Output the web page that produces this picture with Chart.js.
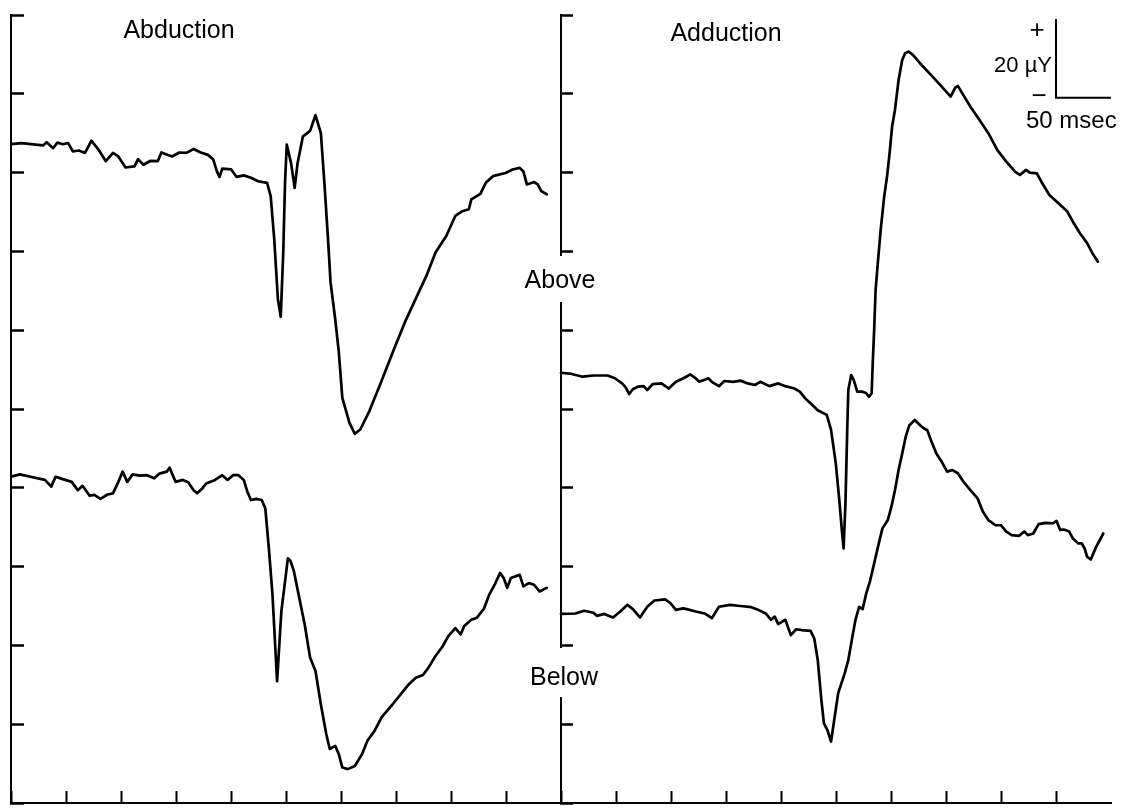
<!DOCTYPE html>
<html>
<head>
<meta charset="utf-8">
<title>Abduction / Adduction evoked responses</title>
<script src="https://cdn.jsdelivr.net/npm/chart.js@4.4.1/dist/chart.umd.min.js"></script>
<style>
  html, body { margin: 0; padding: 0; background: #fff; }
  #wrap { width: 1123px; height: 808px; position: relative; }
  canvas { display: block; }
</style>
</head>
<body>
<div id="wrap"><canvas id="c" width="1123" height="808"></canvas></div>
<script>
// ---- Data -------------------------------------------------------------
// Time in msec from the start of each panel, amplitude in µV on the shared vertical scale.
const PANEL_MS = 500;
const X_TICK_MS = 50;
const Y_TICK_UV = 20;
const Y_MAX_UV = 200;

const panelTitles = ['Abduction', 'Adduction'];
const traceNames = ['Above', 'Below'];
const scaleBarMs = 50;
const scaleBarUv = 20;
const scaleBarTexts = ['+', '20 µY', '−', '50 msec'];

// Abduction, electrode above
const abductionAbove = [
  [0,167.2],[9.6,167.5],[29.1,166.9],[32.4,167.7],[38.3,166.2],[42.2,167.6],[47.1,167.2],[52.0,167.5],
  [56.2,165.4],[61.7,165.6],[67.3,165.0],[73.1,168.1],[79.6,165.8],[86.2,162.9],[92.7,165.0],[97.6,164.1],
  [104.1,161.3],[112.2,161.6],[115.5,163.4],[120.4,162.0],[126.9,163.0],[133.4,162.9],[136.7,165.1],[146.5,164.1],
  [153.0,165.1],[159.5,165.0],[166.0,166.0],[172.5,165.1],[179.0,164.5],[183.9,163.3],[187.2,160.3],[189.5,158.9],
  [192.1,161.0],[200.2,160.8],[205.1,158.9],[211.6,159.3],[218.1,158.7],[224.7,157.8],[232.8,157.4],[236.1,154.0],
  [239.3,143.1],[242.6,128.0],[245.2,123.4],[247.5,139.7],[249.1,157.4],[250.7,167.1],[254.6,162.4],[257.9,156.1],
  [260.5,162.4],[265.4,169.2],[271.9,170.6],[276.8,174.6],[281.7,170.0],[284.9,157.4],[288.2,143.1],[290.5,132.2],
  [294.7,122.9],[298.0,114.5],[301.2,102.8],[307.7,96.5],[312.6,93.7],[317.5,94.8],[325.7,99.4],[335.4,106.1],
  [348.5,115.4],[358.2,122.1],[368.0,128.0],[377.8,133.9],[385.9,139.7],[395.7,143.9],[403.9,149.0],[410.4,150.2],
  [416.2,150.7],[418.5,153.2],[426.7,154.6],[431.6,157.4],[438.1,159.1],[449.5,159.9],[456.0,160.8],[462.5,161.2],
  [465.8,160.3],[469.0,157.0],[475.6,157.6],[478.8,157.0],[482.1,155.3],[487.0,154.5]
];

// Abduction, electrode below
const abductionBelow = [
  [0,82.8],[8.0,83.4],[17.7,82.8],[30.8,82.0],[36.6,80.3],[40.5,82.8],[47.1,82.2],[55.2,81.5],
  [60.7,79.4],[65.0,80.5],[71.5,78.0],[75.7,78.2],[81.3,77.2],[87.8,78.3],[92.7,78.6],[97.6,81.5],
  [101.5,84.1],[105.7,81.5],[110.6,83.4],[117.1,83.1],[123.6,83.2],[130.2,82.4],[135.0,83.6],[141.6,84.1],
  [144.2,85.1],[146.4,83.6],[149.7,81.5],[156.2,82.0],[161.1,81.4],[166.0,79.4],[169.2,78.6],[174.1,79.9],
  [177.4,81.1],[185.5,82.0],[192.0,83.2],[196.9,82.0],[201.8,83.2],[206.7,83.2],[211.6,82.0],[214.9,79.0],
  [218.1,76.9],[223.0,77.2],[227.9,76.9],[231.2,74.8],[234.4,64.7],[237.7,52.9],[241.9,30.9],[245.8,48.7],
  [249.1,56.2],[251.7,62.1],[254.0,61.5],[257.2,58.8],[262.1,52.0],[267.0,45.3],[271.9,36.9],[276.8,33.5],
  [281.7,25.0],[286.6,17.5],[289.8,13.7],[294.7,14.5],[298.0,12.4],[301.2,9.0],[306.1,8.6],[312.6,9.4],
  [319.1,12.4],[324.0,15.8],[330.5,18.3],[337.0,21.8],[346.8,25.0],[356.6,28.4],[361.5,30.1],[368.0,31.8],
  [374.5,32.5],[379.4,34.3],[385.9,37.3],[392.5,39.8],[397.4,42.3],[403.9,44.4],[408.8,42.8],[412.0,44.9],
  [418.5,46.5],[423.4,47.0],[429.9,49.3],[434.8,52.9],[439.7,55.4],[444.6,58.4],[447.9,57.1],[451.1,54.6],
  [454.4,57.1],[462.5,57.9],[465.8,55.0],[470.7,55.8],[475.5,55.4],[480.4,53.7],[487.0,54.6]
];

// Adduction, electrode above
const adductionAbove = [
  [0,109.2],[9.8,108.9],[19.6,108.2],[29.4,108.5],[42.4,108.5],[49.0,107.8],[55.5,106.5],[58.8,105.5],
  [62.0,103.8],[65.3,105.0],[70.2,105.7],[75.1,105.8],[78.4,104.8],[83.3,106.3],[91.4,106.5],[97.9,105.2],
  [104.5,106.9],[112.6,108.0],[117.5,108.8],[122.4,107.8],[125.7,106.9],[130.6,107.4],[133.9,107.8],[137.1,106.9],
  [143.6,105.8],[148.5,107.1],[156.7,106.9],[163.2,107.2],[169.8,106.5],[176.3,106.1],[181.2,106.9],[189.4,105.8],
  [197.5,106.5],[204.0,105.8],[212.2,105.2],[217.1,104.4],[222.0,102.7],[228.5,101.0],[233.4,99.7],[241.6,98.5],
  [245.5,94.7],[249.8,86.2],[253.0,76.9],[255.3,69.3],[256.9,64.6],[258.6,76.1],[260.2,94.7],[261.2,104.8],
  [263.8,108.6],[266.1,107.4],[269.3,104.4],[274.2,104.4],[277.5,104.0],[280.1,103.1],[282.4,104.0],[283.4,111.6],
  [284.7,120.1],[286.0,130.2],[288.0,137.0],[290.6,145.4],[293.8,153.9],[296.4,159.0],[298.7,164.9],[301.0,171.7],
  [303.6,175.9],[306.9,183.5],[310.2,188.6],[312.8,190.3],[316.0,190.7],[319.9,189.9],[326.5,187.7],[336.3,184.8],
  [346.1,181.8],[354.2,179.3],[358.5,181.6],[360.8,182.0],[364.0,180.5],[372.2,176.7],[380.3,173.4],[388.5,170.0],
  [396.7,165.7],[404.8,162.8],[413.0,160.2],[417.2,159.4],[422.8,160.7],[426.1,160.0],[432.6,159.8],[437.5,157.3],
  [444.0,154.3],[452.2,152.2],[460.3,150.1],[465.2,147.6],[471.8,144.6],[478.3,142.1],[483.2,139.5],[488.1,137.4]
];

// Adduction, electrode below
const adductionBelow = [
  [0,48.0],[13.1,48.1],[21.2,48.8],[29.4,48.3],[32.6,47.5],[39.2,48.0],[47.3,47.1],[53.9,48.6],
  [60.4,50.3],[65.3,49.2],[71.8,47.1],[78.4,49.8],[84.9,51.4],[94.7,51.7],[99.6,50.7],[104.5,49.0],
  [111.0,49.4],[114.3,49.2],[122.4,48.6],[130.6,48.1],[137.1,46.9],[143.6,49.8],[153.4,50.3],[163.2,50.0],
  [173.0,49.7],[177.9,49.2],[186.1,48.1],[191.0,46.5],[194.3,47.3],[197.5,45.4],[200.8,46.0],[204.0,46.5],
  [208.9,42.6],[213.8,44.1],[218.7,43.9],[226.9,43.7],[230.2,41.8],[233.4,36.3],[236.7,26.2],[239.0,20.2],
  [242.2,18.5],[245.5,15.6],[248.8,21.9],[252.0,27.9],[257.9,32.9],[261.2,36.3],[264.4,41.4],[267.7,46.5],
  [271.0,49.8],[274.2,49.2],[277.5,53.2],[280.8,56.2],[284.0,60.0],[288.9,65.9],[292.2,69.7],[297.1,71.8],
  [300.4,75.2],[303.6,79.4],[306.9,84.5],[310.2,88.7],[313.4,93.0],[316.7,95.9],[321.6,97.2],[326.5,95.9],
  [329.7,95.1],[333.0,94.6],[336.3,92.1],[341.2,88.7],[346.1,86.6],[351.0,84.1],[355.9,84.5],[360.8,83.7],
  [365.7,81.6],[372.2,79.4],[378.7,77.3],[383.6,73.9],[388.5,71.8],[395.0,70.5],[399.9,70.5],[404.8,68.9],
  [409.7,68.0],[416.3,67.8],[421.2,68.9],[424.4,68.0],[429.3,68.4],[434.2,70.8],[440.7,71.1],[447.3,71.0],
  [450.5,71.6],[453.8,69.3],[457.1,69.4],[462.0,68.9],[465.2,67.2],[470.1,65.9],[473.4,65.9],[476.0,64.6],
  [478.3,62.5],[481.6,61.8],[486.5,65.0],[493.0,68.4]
];

// ---- Chart ------------------------------------------------------------
const INK = '#000';
const FONT = '"Liberation Sans", Arial, Helvetica, sans-serif';
const X_MAX = 2 * PANEL_MS;

const toPoints = (pairs, offsetMs) => pairs.map(([t, v]) => ({ x: t + offsetMs, y: v }));

const traceStyle = {
  borderColor: INK,
  borderWidth: 2.7,
  borderJoinStyle: 'round',
  borderCapStyle: 'round',
  pointRadius: 0,
  fill: false,
  tension: 0
};

// scale bar: anchored in the upper right corner of the Adduction panel
const barX = X_MAX - scaleBarMs;
const barY = Y_MAX_UV - 1 - scaleBarUv;

const datasets = [
  { label: panelTitles[0] + ' ' + traceNames[0], data: toPoints(abductionAbove, 0), ...traceStyle },
  { label: panelTitles[0] + ' ' + traceNames[1], data: toPoints(abductionBelow, 0), ...traceStyle },
  { label: panelTitles[1] + ' ' + traceNames[0], data: toPoints(adductionAbove, PANEL_MS), ...traceStyle },
  { label: panelTitles[1] + ' ' + traceNames[1], data: toPoints(adductionBelow, PANEL_MS), ...traceStyle },
  {
    label: 'scale',
    data: [
      { x: barX, y: barY + scaleBarUv },
      { x: barX, y: barY },
      { x: barX + scaleBarMs, y: barY }
    ],
    ...traceStyle,
    borderWidth: 2,
    borderCapStyle: 'butt',
    borderJoinStyle: 'miter',
    clip: false
  }
];

const axisGrid = (len, width) => ({
  display: true,
  drawOnChartArea: false,
  drawTicks: true,
  tickLength: len,          // negative length turns the tick marks inward
  tickWidth: width,
  tickColor: INK
});
const axisBorder = { display: true, color: INK, width: 2 };

const textPlugin = {
  id: 'panelText',
  afterDraw(chart) {
    const { ctx, scales } = chart;
    const midX = scales.x.getPixelForValue(PANEL_MS);
    ctx.save();

    // break the middle axis where the trace names sit
    ctx.fillStyle = '#fff';
    ctx.fillRect(midX - 4, 256, 8, 46);
    ctx.fillRect(midX - 4, 648, 8, 49);
    ctx.fillStyle = INK;

    ctx.font = '25px ' + FONT;
    ctx.textBaseline = 'alphabetic';
    ctx.textAlign = 'center';
    ctx.fillText(panelTitles[0], 179, 38);
    ctx.fillText(panelTitles[1], 726, 41);
    ctx.fillText(traceNames[0], midX - 1, 288);
    ctx.fillText(traceNames[1], midX + 3, 685);

    // scale bar captions
    const barLeft = scales.x.getPixelForValue(barX);
    const barBottom = scales.y.getPixelForValue(barY);
    ctx.font = '26px ' + FONT;
    ctx.textBaseline = 'middle';
    ctx.fillText(scaleBarTexts[0], barLeft - 19, 31);
    ctx.fillText(scaleBarTexts[2], barLeft - 17, barBottom - 1);
    ctx.font = '22px ' + FONT;
    ctx.textAlign = 'right';
    ctx.textBaseline = 'alphabetic';
    ctx.fillText(scaleBarTexts[1], barLeft - 4, 72);
    ctx.font = '24px ' + FONT;
    ctx.textAlign = 'left';
    ctx.fillText(scaleBarTexts[3], barLeft - 30, 128);
    ctx.restore();
  }
};

new Chart(document.getElementById('c'), {
  type: 'line',
  data: { datasets },
  options: {
    responsive: false,
    animation: false,
    devicePixelRatio: 1,
    layout: { padding: { left: 11, right: 12, top: 15, bottom: 5 } },
    plugins: {
      legend: { display: false },
      tooltip: { enabled: false },
      title: { display: false }
    },
    scales: {
      x: {
        type: 'linear',
        position: 'bottom',
        min: 0,
        max: X_MAX,
        ticks: { display: false, stepSize: X_TICK_MS },
        grid: {
          ...axisGrid(-12, 2),
          tickColor: c => (c.tick && c.tick.value === X_MAX ? 'rgba(0,0,0,0)' : INK)
        },
        border: axisBorder,
        afterFit: s => { s.height = 0; }
      },
      y: {
        type: 'linear',
        position: 'left',
        min: 0,
        max: Y_MAX_UV,
        ticks: { display: false, stepSize: Y_TICK_UV },
        grid: axisGrid(-13, 2.5),
        border: axisBorder,
        afterFit: s => { s.width = 0; }
      },
      y2: {
        type: 'linear',
        axis: 'y',
        position: { x: PANEL_MS },
        min: 0,
        max: Y_MAX_UV,
        ticks: { display: false, stepSize: Y_TICK_UV },
        grid: axisGrid(-13, 2.5),
        border: axisBorder,
        afterFit: s => { s.width = 0; }
      }
    }
  },
  plugins: [textPlugin]
});
</script>
</body>
</html>
